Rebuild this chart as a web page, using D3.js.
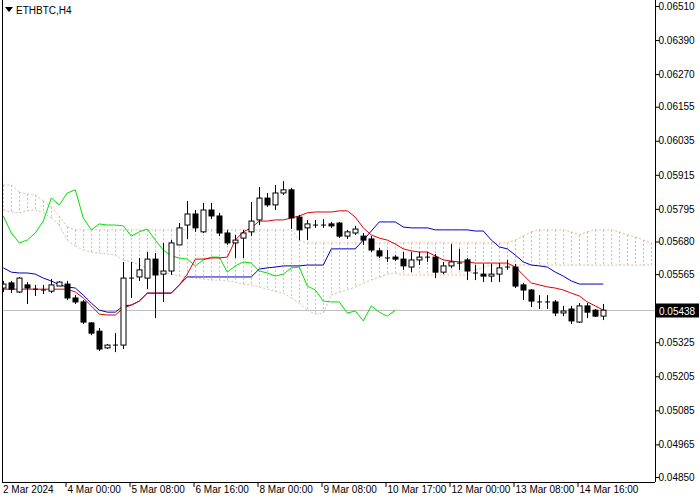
<!DOCTYPE html>
<html><head><meta charset="utf-8">
<script src="https://cdn.jsdelivr.net/npm/d3@7"></script>
<style>body{margin:0;background:#fff}svg{display:block}text{font-family:"Liberation Sans",Arial,sans-serif}</style>
</head><body><svg id="c" width="700" height="500"></svg>
<script>
const title = "ETHBTC,H4";
const opens  = [5516,5534,5502,5527,5516,5512,5505,5523,5530,5481,5467,5393,5364,5305,5319,5315,5555,5555,5551,5618,5565,5576,5668,5738,5777,5714,5791,5770,5710,5675,5692,5714,5756,5833,5809,5851,5862,5766,5728,5742,5742,5742,5745,5699,5710,5699,5689,5647,5625,5625,5618,5590,5615,5629,5625,5572,5594,5608,5615,5572,5565,5558,5565,5587,5590,5527,5509,5470,5470,5467,5428,5442,5396,5453,5438,5417];
const closes = [5530,5512,5551,5516,5512,5509,5527,5537,5481,5467,5396,5357,5301,5315,5315,5551,5551,5580,5618,5562,5576,5675,5728,5777,5728,5791,5770,5710,5675,5685,5710,5752,5833,5809,5851,5862,5763,5721,5742,5738,5738,5735,5699,5714,5724,5685,5650,5629,5622,5618,5594,5615,5625,5625,5572,5594,5608,5604,5576,5569,5558,5565,5587,5590,5523,5509,5470,5467,5467,5428,5435,5400,5453,5431,5417,5438];
const highs  = [5541,5541,5555,5537,5527,5527,5548,5541,5541,5491,5474,5396,5375,5319,5357,5608,5608,5622,5643,5639,5675,5685,5745,5823,5791,5816,5816,5781,5721,5703,5721,5819,5872,5851,5879,5893,5869,5774,5756,5756,5759,5749,5749,5721,5735,5710,5699,5657,5650,5632,5643,5643,5643,5643,5636,5608,5671,5654,5622,5597,5601,5601,5604,5615,5601,5534,5512,5491,5491,5474,5453,5453,5463,5463,5442,5460];
const lows   = [5502,5498,5498,5460,5488,5495,5498,5523,5474,5460,5389,5350,5294,5301,5290,5301,5481,5541,5512,5410,5467,5562,5671,5689,5714,5710,5759,5699,5668,5622,5622,5699,5738,5802,5791,5844,5724,5685,5685,5728,5728,5728,5692,5689,5703,5668,5643,5622,5608,5611,5580,5572,5597,5608,5551,5565,5587,5580,5544,5544,5537,5537,5537,5580,5516,5474,5449,5442,5442,5417,5417,5389,5393,5410,5414,5403];
const tenkan = [5512,5512,5512,5512,5512,5512,5512,5512,5512,5502,5481,5453,5424,5421,5421,5445,5456,5470,5498,5498,5498,5498,5527,5565,5618,5618,5622,5622,5625,5685,5714,5728,5752,5752,5756,5756,5763,5770,5781,5784,5784,5784,5788,5788,5766,5728,5703,5692,5685,5671,5654,5647,5643,5643,5629,5615,5611,5608,5608,5604,5604,5604,5604,5604,5590,5562,5534,5527,5520,5516,5509,5498,5488,5467,5453,5438];
const kijun  = [5587,5572,5569,5569,5565,5551,5541,5527,5520,5516,5491,5463,5438,5431,5431,5453,5456,5470,5498,5498,5498,5498,5527,5555,5555,5555,5555,5555,5555,5555,5555,5555,5583,5587,5590,5594,5594,5594,5597,5597,5597,5654,5654,5654,5654,5685,5717,5749,5749,5749,5731,5728,5728,5728,5721,5721,5721,5721,5721,5717,5717,5685,5661,5654,5632,5608,5597,5594,5590,5572,5558,5541,5530,5530,5530,5530];
const spanTop = [5879,5879,5854,5847,5844,5823,5802,5770,5731,5721,5721,5721,5721,5721,5721,5721,5721,5721,5721,5721,5721,5721,5721,5721,5721,5721,5721,5721,5721,5721,5721,5721,5721,5721,5721,5721,5721,5685,5675,5675,5675,5675,5675,5675,5675,5675,5675,5675,5675,5675,5675,5675,5675,5675,5675,5675,5675,5675,5675,5675,5675,5675,5675,5675,5685,5699,5714,5721,5721,5721,5721,5714,5703,5714,5721,5721,5721,5714,5703,5696,5685,5675];
const spanBot = [5791,5784,5781,5788,5791,5781,5763,5738,5685,5664,5650,5643,5639,5636,5632,5615,5608,5597,5587,5580,5572,5565,5558,5555,5551,5548,5544,5544,5541,5537,5530,5527,5520,5512,5505,5498,5481,5463,5438,5424,5428,5491,5502,5509,5520,5534,5544,5555,5565,5569,5562,5562,5562,5562,5562,5562,5562,5562,5562,5580,5590,5597,5597,5597,5597,5597,5597,5597,5597,5597,5597,5597,5597,5597,5597,5597,5597,5597,5597,5597,5597,5597];
const priceTicks = ["0.06510","0.06390","0.06270","0.06155","0.06035","0.05915","0.05795","0.05680","0.05565","0.05440","0.05325","0.05205","0.05085","0.04965","0.04850"];
const timeLabels = ["2 Mar 2024","4 Mar 00:00","5 Mar 08:00","6 Mar 16:00","8 Mar 00:00","9 Mar 08:00","10 Mar 17:00","12 Mar 00:00","13 Mar 08:00","14 Mar 16:00"];
const lastPrice = "0.05438";
const chikouShift = 26;

const U = 1e-5;
const svg = d3.select("#c");
const L=2, R=655, T=0, B=482;
const x = d3.scaleLinear().domain([0,1]).range([3.3,11.3]);
const y = d3.scaleLinear().domain([0.04850,0.06510]).range([477,6]);
const P = v => y(v*U);

const g = svg.append("g");
g.append("defs").append("clipPath").attr("id","cp").append("rect").attr("x",L).attr("y",T).attr("width",R-L).attr("height",B-T);
const plot = g.append("g").attr("clip-path","url(#cp)");

const cloudCol = i => i>=48 ? "#f2b488" : "#dcbcb0";
spanTop.forEach((t,i)=>{
  plot.append("line").attr("x1",Math.round(x(i))+0.5).attr("x2",Math.round(x(i))+0.5).attr("y1",P(t)).attr("y2",P(spanBot[i]))
    .attr("stroke",cloudCol(i)).attr("stroke-width",1).attr("stroke-dasharray","2,2");
});
[spanTop,spanBot].forEach(arr=>{
  for(let i=0;i<arr.length-1;i++){
    plot.append("line").attr("x1",x(i)).attr("x2",x(i+1)).attr("y1",P(arr[i])).attr("y2",P(arr[i+1]))
      .attr("stroke", cloudCol(i)).attr("stroke-dasharray","2,2");
  }
});

plot.append("line").attr("x1",L).attr("x2",R).attr("y1",Math.round(y(+lastPrice))+0.5).attr("y2",Math.round(y(+lastPrice))+0.5).attr("stroke","#c0c0c0");

const line = d3.line().x(d=>x(d[0])).y(d=>P(d[1]));
plot.append("path").attr("d",line(closes.slice(chikouShift).map((v,i)=>[i,v]))).attr("fill","none").attr("stroke","#00e000");
plot.append("path").attr("d",line(kijun.map((v,i)=>[i,v]))).attr("fill","none").attr("stroke","#0000c0");
plot.append("path").attr("d",line(tenkan.map((v,i)=>[i,v]))).attr("fill","none").attr("stroke","#e00000");

opens.forEach((o,i)=>{
  const c=closes[i], cx=Math.round(x(i))+0.5;
  plot.append("line").attr("x1",cx).attr("x2",cx).attr("y1",P(highs[i])).attr("y2",P(lows[i])).attr("stroke","#000");
  const top=Math.min(P(o),P(c)), h=Math.abs(P(o)-P(c));
  if(h<1.5){
    plot.append("line").attr("x1",cx-2.5).attr("x2",cx+2.5).attr("y1",P(c)).attr("y2",P(c)).attr("stroke","#000");
  } else {
    plot.append("rect").attr("x",cx-2.5).attr("y",top).attr("width",5).attr("height",h)
      .attr("fill", c>=o ? "#fff":"#000").attr("stroke","#000");
  }
});

g.append("line").attr("x1",L+0.5).attr("x2",L+0.5).attr("y1",0).attr("y2",B).attr("stroke","#000");
g.append("line").attr("x1",R+0.5).attr("x2",R+0.5).attr("y1",0).attr("y2",B).attr("stroke","#000");
g.append("line").attr("x1",L).attr("x2",R).attr("y1",B+0.5).attr("y2",B+0.5).attr("stroke","#000");

const yAxis = d3.axisRight(y).tickValues(priceTicks.map(Number)).tickSize(4).tickFormat((d,i)=>priceTicks[i]);
const ya = g.append("g").attr("transform",`translate(${R+0.5},0)`).call(yAxis);
ya.select(".domain").remove();
ya.selectAll("text").attr("font-size",10).attr("x",3).attr("fill","#000").attr("font-family","Liberation Sans");
const lp = g.append("g").attr("transform",`translate(${R+1},${Math.round(y(+lastPrice))+0.5})`);
lp.append("rect").attr("x",0).attr("y",-7).attr("width",43).attr("height",14).attr("fill","#000");
lp.append("text").attr("x",3).attr("y",4).attr("font-size",10).attr("fill","#fff").text(lastPrice);

const xa = g.append("g").attr("transform",`translate(0,${B})`);
timeLabels.forEach((t,k)=>{
  const xx = Math.round(x(k*8))-1.5;
  if(k>0) xa.append("line").attr("x1",xx+0.5).attr("x2",xx+0.5).attr("y1",0).attr("y2",5).attr("stroke","#000");
  xa.append("text").attr("x",k===0?3:xx+2).attr("y",11).attr("font-size",10).text(t);
});

g.append("path").attr("d","M5,7 L13,7 L9,12 Z").attr("fill","#000");
g.append("text").attr("x",16).attr("y",14).attr("font-size",10).text(title);
</script></body></html>
